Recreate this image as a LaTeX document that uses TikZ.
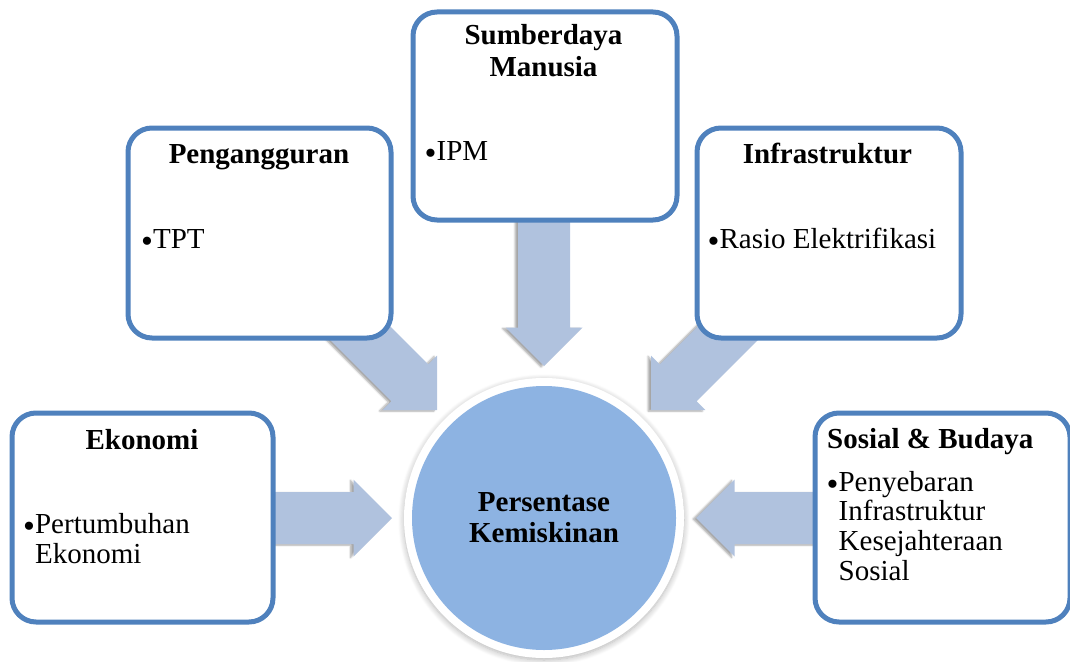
\documentclass[tikz,border=0pt]{standalone}
\usepackage{fontspec}
\setmainfont{Liberation Serif}
\usetikzlibrary{calc,shadows.blur}
\definecolor{boxline}{RGB}{79,129,189}
\definecolor{arrowfill}{RGB}{176,194,222}
\definecolor{circfill}{RGB}{141,179,226}
\newcommand{\bul}{\smash{\raisebox{-4pt}{\fontsize{34}{30}\selectfont •}}}
\tikzset{
  boxstyle/.style={draw=boxline, line width=5pt, rounded corners=24pt, fill=white, inner sep=0pt, rectangle},
  arrowstyle/.style={fill=arrowfill, blur shadow={shadow xshift=-3pt, shadow yshift=-1pt, shadow blur steps=6, shadow opacity=35}},
  txt/.style={inner sep=0pt, anchor=base west, font=\fontsize{29}{30}\selectfont},
  ttl/.style={inner sep=0pt, anchor=base, font=\fontsize{29}{30}\selectfont\bfseries},
}
\newcommand{\blockarrow}[2]{%
  \coordinate (#1-h) at ($(#2)!38.5pt!(#1)$);
  \fill[arrowstyle] ($(#1)!26pt!90:(#2)$) -- ($(#1-h)!26pt!90:(#2)$) -- ($(#1-h)!38.5pt!90:(#2)$) -- (#2)
     -- ($(#1-h)!38.5pt!-90:(#2)$) -- ($(#1-h)!26pt!-90:(#2)$) -- ($(#1)!26pt!-90:(#2)$) -- cycle;}
\begin{document}
\begin{tikzpicture}[x=1pt,y=-1pt]
\useasboundingbox (0,0) rectangle (1070,661);
% arrow coordinates
\coordinate (aeS) at (250,518);  \coordinate (aeT) at (392,518);
\coordinate (asS) at (840,518);  \coordinate (asT) at (696,518);
\coordinate (amS) at (544,200);  \coordinate (amT) at (544,366);
\coordinate (apS) at (327,300);  \coordinate (apT) at (437,410);
\coordinate (aiS) at (761,300);  \coordinate (aiT) at (651,410);
\blockarrow{aeS}{aeT}
\blockarrow{asS}{asT}
\blockarrow{amS}{amT}
\blockarrow{apS}{apT}
\blockarrow{aiS}{aiT}
% boxes
\node[boxstyle, minimum width=261pt, minimum height=209pt] (eko) at (142.5,517.5) {};
\node[boxstyle, minimum width=263pt, minimum height=210pt] (peng) at (259.5,233) {};
\node[boxstyle, minimum width=264pt, minimum height=208pt] (sdm) at (545,116) {};
\node[boxstyle, minimum width=264pt, minimum height=210pt] (infra) at (829,233) {};
\node[boxstyle, minimum width=255pt, minimum height=209pt] (sos) at (942.5,517.5) {};
% circle
\node[circle, fill=white, minimum size=280pt, inner sep=0pt,
  blur shadow={shadow xshift=0pt, shadow yshift=-2pt, shadow blur steps=8, shadow opacity=30, shadow blur radius=6pt}] (ring) at (544,518) {};
\node[circle, fill=circfill, minimum size=264pt, inner sep=0pt] (pk) at (544,518) {};
% texts
\node[ttl] (pk1) at (544,511) {Persentase};
\node[ttl] (pk2) at (544,542) {Kemiskinan};
\node[ttl] (ekoT) at (142,449) {Ekonomi};
\node[txt] (eko1) at (23,533) {\bul Pertumbuhan};
\node[txt] (eko2) at (35,563) {Ekonomi};
\node[ttl] (pengT) at (259,163) {Pengangguran};
\node[txt] (peng1) at (141,248) {\bul TPT};
\node[ttl] (sdmT1) at (543.5,45) {Sumberdaya};
\node[ttl] (sdmT2) at (543.5,76) {Manusia};
\node[txt] (sdm1) at (424.5,160) {\bul IPM};
\node[ttl] (infraT) at (827.5,163) {Infrastruktur};
\node[txt] (infra1) at (707.5,248) {\bul Rasio Elektrifikasi};
\node[txt, font=\fontsize{29}{30}\selectfont\bfseries] (sosT) at (827,448) {Sosial \& Budaya};
\node[txt] (sos1) at (826.5,491) {\bul Penyebaran};
\node[txt] (sos2) at (838.5,520.5) {Infrastruktur};
\node[txt] (sos3) at (838.5,550) {Kesejahteraan};
\node[txt] (sos4) at (838.5,580) {Sosial};
\end{tikzpicture}
\end{document}
